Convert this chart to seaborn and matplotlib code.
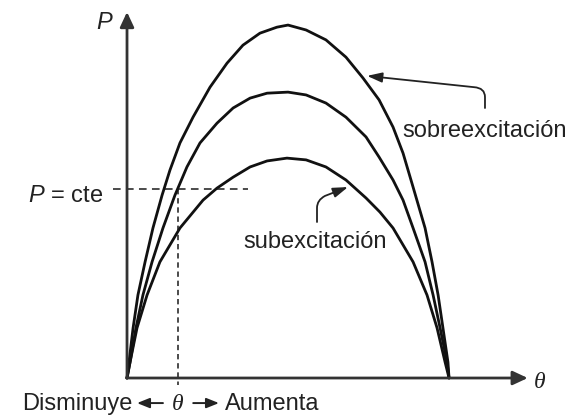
import matplotlib
matplotlib.use("Agg")
import matplotlib.pyplot as plt
from matplotlib.patches import FancyArrowPatch
from matplotlib.path import Path
import pandas as pd
import seaborn as sns

# Power-angle curves P(theta) for three excitation levels (theta in degrees, P in % of the top peak)
theta_sobre = [0, 1.1, 3.4, 6.1, 10.1, 14.5, 19.6, 24.0, 29.6, 36.9, 46.4, 55.9, 64.8, 74.3, 83.8, 90.0,
               100.1, 111.2, 122.4, 131.9, 140.9, 148.7, 154.3, 159.9, 166.6, 170.5, 173.9, 176.6, 179.4, 180.0]
p_sobre = [0, 4.5, 14.2, 23.5, 32.9, 42.5, 51.8, 58.9, 66.6, 73.9, 82.4, 89.2, 94.3, 97.7, 99.4, 100.0,
           98.6, 95.8, 90.9, 85.0, 78.8, 71.1, 63.7, 54.1, 42.5, 32.9, 23.5, 14.2, 4.5, 0]

theta_normal = [0, 1.7, 5.0, 8.9, 14.0, 20.1, 26.8, 33.5, 40.8, 50.3, 59.3, 68.8, 78.3, 90.0,
                100.1, 111.2, 122.4, 133.6, 140.9, 148.7, 154.3, 159.9, 166.6, 171.1, 175.0, 178.9, 180.0]
p_normal = [0, 4.5, 14.2, 23.5, 32.9, 42.5, 51.8, 59.8, 66.6, 72.2, 76.5, 79.3, 80.7, 81.0,
            80.2, 77.9, 73.9, 68.3, 62.6, 56.1, 50.4, 42.5, 32.9, 23.5, 14.2, 4.5, 0]

theta_sub = [0, 1.7, 5.6, 11.2, 18.4, 29.6, 42.5, 50.3, 59.3, 68.8, 78.3, 89.4,
             100.1, 111.2, 122.4, 133.6, 141.4, 148.7, 159.9, 167.7, 173.3, 177.8, 180.0]
p_sub = [0, 4.5, 14.2, 23.5, 32.9, 42.5, 50.4, 53.8, 56.9, 59.8, 61.5, 62.3,
         61.8, 59.8, 56.1, 51.0, 47.0, 42.5, 32.9, 23.5, 14.2, 4.5, 0]

# Constant power level and the operating angle on the middle curve
p_cte = 53.5
theta_0 = 28.5

label_sobre = "sobreexcitación"
label_sub = "subexcitación"
label_pcte = "$P$ = cte"
label_left = "Disminuye"
label_right = "Aumenta"

df = pd.concat([
    pd.DataFrame({"theta": theta_sobre, "P": p_sobre, "curva": "sobre"}),
    pd.DataFrame({"theta": theta_normal, "P": p_normal, "curva": "normal"}),
    pd.DataFrame({"theta": theta_sub, "P": p_sub, "curva": "sub"}),
])

sns.set_theme(style="white")
plt.rcParams["font.family"] = ["Liberation Sans", "DejaVu Sans"]
plt.rcParams["mathtext.fontset"] = "custom"
plt.rcParams["mathtext.rm"] = "Liberation Sans"
plt.rcParams["mathtext.it"] = "Liberation Sans:italic"

fig = plt.figure(figsize=(5.73, 4.15), dpi=100)
ax = fig.add_axes([0, 0, 1, 1])
ax.set_xlim(-71.0, 249.3)
ax.set_ylim(-10.48, 107.1)
ax.axis("off")

ink = "#1a1a1a"
txt = "#222222"
fs = 17

sns.lineplot(data=df, x="theta", y="P", units="curva", estimator=None, sort=False,
             color="#111111", lw=2.0, legend=False, ax=ax,
             solid_joinstyle="round", solid_capstyle="round")

# Axes drawn as arrows
axis_arrow = dict(arrowstyle="-|>,head_length=0.9,head_width=0.42", mutation_scale=10,
                  lw=2.0, color="#333333", shrinkA=0, shrinkB=0)
ax.annotate("", xy=(0, 103.7), xytext=(0, 0), arrowprops=axis_arrow)
ax.annotate("", xy=(224.0, 0), xytext=(-0.3, 0), arrowprops=axis_arrow)
ax.text(-12.9, 98.9, "P", fontsize=fs, style="italic", color=txt, ha="center", va="baseline")
ax.text(230.9, -2.8, "θ", fontsize=fs, style="italic", color=txt, ha="center", va="baseline",
        family=["Liberation Serif", "DejaVu Serif"])

# Constant power line and operating angle
ax.plot([-7.8, 67.6], [p_cte, p_cte], color=ink, lw=1.1, dashes=(5, 3.5))
ax.plot([theta_0, theta_0], [p_cte, -2.0], color=ink, lw=1.1, dashes=(3.5, 2.5))
ax.text(-13.4, 49.9, label_pcte, fontsize=fs, color=txt, ha="right", va="baseline")

# Bottom direction labels
ax.text(2.8, -9.1, label_left, fontsize=fs, color=txt, ha="right", va="baseline")
ax.text(theta_0, -9.1, "θ", fontsize=fs, style="italic", color=txt, ha="center", va="baseline",
        family=["Liberation Serif", "DejaVu Serif"])
ax.text(54.8, -9.1, label_right, fontsize=fs, color=txt, ha="left", va="baseline")
small_arrow = dict(arrowstyle="-|>,head_length=0.75,head_width=0.3", mutation_scale=10,
                   lw=1.4, color=txt, shrinkA=0, shrinkB=0)
ax.annotate("", xy=(5.6, -7.1), xytext=(20.1, -7.1), arrowprops=small_arrow)
ax.annotate("", xy=(51.4, -7.1), xytext=(37.0, -7.1), arrowprops=small_arrow)

# Curve labels with hooked pointer arrows
callout = "-|>,head_length=0.9,head_width=0.3"
sobre_path = Path([(200.1, 76.5), (200.1, 79.6), (200.1, 82.2), (194.0, 82.4), (134.2, 85.6)],
                  [Path.MOVETO, Path.LINETO, Path.CURVE3, Path.CURVE3, Path.LINETO])
ax.add_patch(FancyArrowPatch(path=sobre_path, arrowstyle=callout, mutation_scale=10,
                             lw=1.3, color=txt))
sub_path = Path([(106.2, 44.2), (106.2, 48.2), (106.2, 50.4), (110.7, 51.6), (123.5, 54.1)],
                [Path.MOVETO, Path.LINETO, Path.CURVE3, Path.CURVE3, Path.LINETO])
ax.add_patch(FancyArrowPatch(path=sub_path, arrowstyle=callout, mutation_scale=10,
                             lw=1.3, color=txt))
ax.text(153.7, 68.3, label_sobre, fontsize=fs, color=txt, ha="left", va="baseline")
ax.text(64.8, 36.8, label_sub, fontsize=fs, color=txt, ha="left", va="baseline")

fig.savefig("out.png", dpi=100, facecolor="white")
